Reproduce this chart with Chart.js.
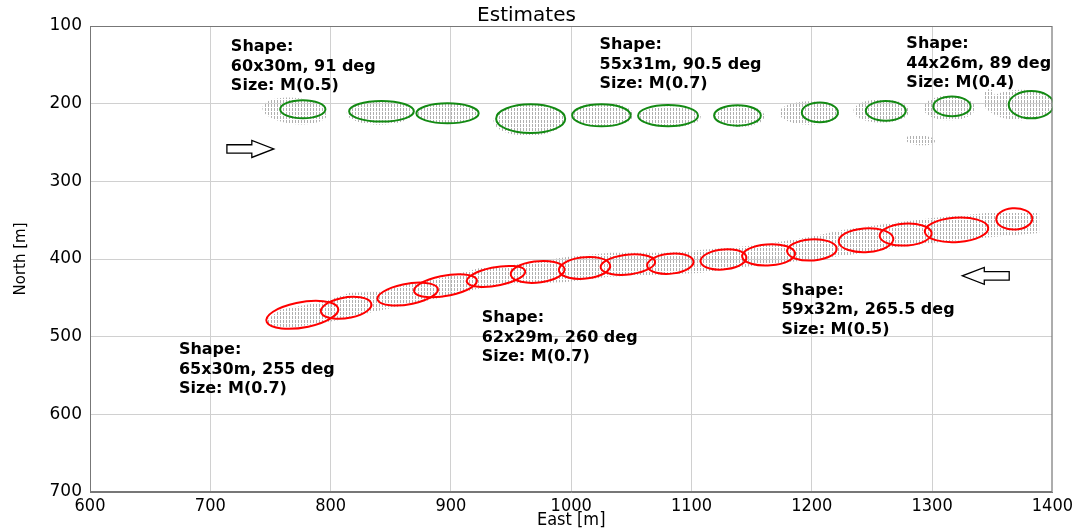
<!DOCTYPE html>
<html>
<head>
<meta charset="utf-8">
<script src="https://cdn.jsdelivr.net/npm/chart.js@4.4.1/dist/chart.umd.min.js"></script>
<style>
  html, body { margin: 0; padding: 0; background: #fff; }
  #wrap { width: 1077px; height: 531px; }
</style>
</head>
<body>
<div id="wrap"><canvas id="grafik" width="1077" height="531"></canvas></div>
<script>
// estimated ellipses, northern track (green): centre, semi axes [m], tilt [deg]
const greenX = [776.9, 842.3, 897.2, 966.3, 1025.1, 1080.5, 1138.2, 1206.7, 1261.5, 1316.5, 1382.4];
const greenY = [207.2, 209.8, 212.4, 219.3, 215.0, 215.4, 215.2, 211.3, 209.2, 203.6, 201.3];
const greenA = [18.8, 26.9, 25.9, 28.7, 24.3, 24.9, 19.4, 15.0, 16.6, 15.5, 18.7];
const greenB = [11.6, 13.3, 12.9, 18.5, 14.2, 13.7, 13.1, 12.7, 12.7, 12.7, 17.6];
const greenAngle = [0, 0, 0, 0, 0, 0, 0, 0, 0, 0, 0];

// estimated ellipses, southern track (red)
const redX = [776.5, 812.9, 864.1, 895.5, 937.5, 972.1, 1011.1, 1047.1, 1082.4, 1126.6, 1164.1, 1200.1, 1245.1, 1278.0, 1320.3, 1368.3];
const redY = [471.9, 462.9, 445.2, 434.4, 422.4, 416.6, 411.5, 407.2, 406.0, 400.5, 394.7, 388.3, 375.8, 368.6, 362.5, 348.4];
const redA = [31.0, 21.7, 26.1, 27.2, 25.3, 22.7, 21.6, 23.0, 19.5, 19.3, 22.1, 20.7, 22.8, 21.7, 26.5, 15.0];
const redB = [16.0, 13.1, 13.0, 12.8, 11.6, 13.6, 13.7, 12.6, 12.8, 12.8, 13.6, 13.6, 15.3, 14.0, 15.6, 13.7];
const redAngle = [18, 18, 18, 18, 18, 12, 12, 12, 12, 12, 7, 7, 7, 7, 7, 7];

// raw detections, northern track: patches
const cloudX = [770.3, 840.9, 897.3, 965.4, 1026.0, 1081.7, 1140.0, 1198.0, 1257.8, 1314.3, 1374.0, 1347.5, 1290.0];
const cloudY = [209.4, 212.0, 212.0, 221.0, 214.5, 217.0, 216.0, 212.0, 209.4, 205.5, 201.7, 195.0, 247.0];
const cloudA = [27.4, 27.5, 26.5, 30.0, 25.7, 26.0, 20.7, 25.0, 23.2, 21.5, 29.0, 5.0, 12.5];
const cloudB = [16.7, 15.0, 13.0, 20.5, 15.5, 13.5, 14.0, 15.0, 15.0, 16.0, 19.5, 14.0, 6.5];
const cloudAngle = [-12, 0, 0, 4, 0, 0, 0, 0, 0, 0, 0, 0, -8];

// raw detections, southern track: outline
const stripEast = [747.0, 757.8, 793.5, 816.0, 840.9, 868.3, 896.5, 923.9, 951.3, 996.2, 1031.9, 1079.2, 1106.6, 1156.5, 1198.0, 1225.4, 1267.0, 1300.2, 1345.0, 1389.0,
                   1389.0, 1350.0, 1300.2, 1267.0, 1231.2, 1198.0, 1156.5, 1106.6, 1065.1, 1031.9, 996.2, 940.5, 918.1, 890.7, 863.3, 835.0, 807.6, 766.1, 747.0];
const stripNorth = [478.4, 465.5, 455.2, 443.6, 442.3, 430.8, 423.0, 411.5, 407.6, 397.3, 392.1, 392.1, 388.3, 381.9, 371.6, 362.5, 353.5, 347.1, 340.7, 340.7,
                    366.4, 371.6, 379.3, 385.7, 394.7, 401.2, 407.6, 417.9, 420.5, 423.0, 429.5, 433.3, 439.8, 450.1, 459.1, 468.1, 478.4, 488.7, 484.8];

// notes
const noteX = [717.1, 1023.6, 1278.6, 673.9, 925.6, 1174.8];
const noteY = [127.0, 124.5, 123.2, 517.0, 475.8, 441.0];
const noteLines = [
  ["Shape:", "60x30m, 91 deg", "Size: M(0.5)"],
  ["Shape:", "55x31m, 90.5 deg", "Size: M(0.7)"],
  ["Shape:", "44x26m, 89 deg", "Size: M(0.4)"],
  ["Shape:", "65x30m, 255 deg", "Size: M(0.7)"],
  ["Shape:", "62x29m, 260 deg", "Size: M(0.7)"],
  ["Shape:", "59x32m, 265.5 deg", "Size: M(0.5)"]
];

// direction arrows (tail -> tip)
const arrowFromX = [713.8, 1364.1];
const arrowToX = [752.8, 1325.1];
const arrowY = [258.3, 421.7];

const xTicks = [600, 700, 800, 900, 1000, 1100, 1200, 1300, 1400];
const yTicks = [100, 200, 300, 400, 500, 600, 700];

let pola = null;
function ambilPola(ctx) {
    if (!pola) {
        let c = document.createElement("canvas");
        c.width = 3; c.height = 4;
        let g = c.getContext("2d");
        g.fillStyle = "#b0b0b0";
        g.fillRect(1, 0, 1, 3);
        pola = ctx.createPattern(c, "repeat");
    }
    return pola;
}

function jalurElips(chart, cx, cy, a, b, sudut) {
    let ctx = chart.ctx;
    let xs = chart.scales.x, ys = chart.scales.y;
    let px = xs.getPixelForValue(cx), py = ys.getPixelForValue(cy);
    let kx = xs.getPixelForValue(cx + 1) - px;
    let ky = ys.getPixelForValue(cy - 1) - py;
    ctx.save();
    ctx.translate(px, py);
    ctx.scale(kx, ky);
    ctx.beginPath();
    ctx.ellipse(0, 0, a, b, sudut * Math.PI / 180, 0, 2 * Math.PI);
    ctx.restore();
}

const gambarLatar = {
    id: "latar",
    beforeDatasetsDraw(chart) {
        let ctx = chart.ctx, area = chart.chartArea;
        let xs = chart.scales.x, ys = chart.scales.y;
        ctx.save();
        ctx.beginPath();
        ctx.rect(area.left, area.top, area.right - area.left, area.bottom - area.top);
        ctx.clip();
        ctx.fillStyle = ambilPola(ctx);
        for (let i = 0; i < cloudX.length; i++) {
            jalurElips(chart, cloudX[i], cloudY[i], cloudA[i], cloudB[i], cloudAngle[i]);
            ctx.fill();
        }
        ctx.beginPath();
        for (let i = 0; i < stripEast.length; i++) {
            let X = xs.getPixelForValue(stripEast[i]), Y = ys.getPixelForValue(stripNorth[i]);
            if (i == 0) ctx.moveTo(X, Y); else ctx.lineTo(X, Y);
        }
        ctx.closePath();
        ctx.fill();
        ctx.restore();
    },
    afterDatasetsDraw(chart) {
        let ctx = chart.ctx, area = chart.chartArea;
        let xs = chart.scales.x, ys = chart.scales.y;
        ctx.save();
        ctx.beginPath();
        ctx.rect(area.left, area.top, area.right - area.left, area.bottom - area.top);
        ctx.clip();
        ctx.lineWidth = 2;
        ctx.strokeStyle = "#138a13";
        for (let i = 0; i < greenX.length; i++) {
            jalurElips(chart, greenX[i], greenY[i], greenA[i], greenB[i], greenAngle[i]);
            ctx.stroke();
        }
        ctx.strokeStyle = "#ff0000";
        for (let i = 0; i < redX.length; i++) {
            jalurElips(chart, redX[i], redY[i], redA[i], redB[i], redAngle[i]);
            ctx.stroke();
        }

        // arrows
        ctx.lineWidth = 1.3;
        ctx.strokeStyle = "#000";
        ctx.fillStyle = "#fff";
        for (let i = 0; i < arrowFromX.length; i++) {
            let x0 = xs.getPixelForValue(arrowFromX[i]);
            let x1 = xs.getPixelForValue(arrowToX[i]);
            let y = ys.getPixelForValue(arrowY[i]);
            let arah = x1 > x0 ? 1 : -1;
            let kepala = 22 * arah;
            ctx.beginPath();
            ctx.moveTo(x0, y - 4.2);
            ctx.lineTo(x1 - kepala, y - 4.2);
            ctx.lineTo(x1 - kepala, y - 8.5);
            ctx.lineTo(x1, y);
            ctx.lineTo(x1 - kepala, y + 8.5);
            ctx.lineTo(x1 - kepala, y + 4.2);
            ctx.lineTo(x0, y + 4.2);
            ctx.closePath();
            ctx.fill();
            ctx.stroke();
        }

        // notes
        ctx.fillStyle = "#000";
        ctx.font = 'bold 16px "DejaVu Sans"';
        ctx.textBaseline = "middle";
        ctx.textAlign = "left";
        for (let i = 0; i < noteX.length; i++) {
            let X = xs.getPixelForValue(noteX[i]), Y = ys.getPixelForValue(noteY[i]);
            noteLines[i].forEach((t, j) => ctx.fillText(t, X, Y + j * 19.5));
        }
        ctx.restore();

        // frame
        ctx.save();
        ctx.strokeStyle = "#777";
        ctx.lineWidth = 1;
        ctx.strokeRect(area.left + 0.5, area.top + 0.5, area.right - area.left - 1, area.bottom - area.top - 1);
        ctx.restore();
    }
};

function buatGrafik() {
    let ctx = document.getElementById("grafik").getContext("2d");
    new Chart(ctx, {
        type: "scatter",
        data: {
            datasets: [{
                label: "north track",
                data: greenX.map((x, i) => ({ x: x, y: greenY[i] })),
                pointRadius: 0
            }, {
                label: "south track",
                data: redX.map((x, i) => ({ x: x, y: redY[i] })),
                pointRadius: 0
            }]
        },
        options: {
            responsive: false,
            animation: false,
            devicePixelRatio: 1,
            layout: { padding: { left: 0, right: 24, top: 0, bottom: 0 } },
            plugins: {
                legend: { display: false },
                tooltip: { enabled: false },
                title: {
                    display: true,
                    text: "Estimates",
                    color: "#000",
                    font: { family: "DejaVu Sans", size: 20, weight: "normal", lineHeight: 1 },
                    padding: { top: 6, bottom: 0 }
                }
            },
            scales: {
                x: {
                    type: "linear",
                    min: 600,
                    max: 1400,
                    afterBuildTicks: (s) => { s.ticks = xTicks.map(v => ({ value: v })); },
                    afterFit: (s) => { s.height = 39; },
                    grid: { color: "#d0d0d0", drawTicks: false },
                    border: { color: "#777" },
                    ticks: {
                        color: "#000",
                        padding: 4,
                        font: { family: "DejaVu Sans Condensed, DejaVu Sans", size: 18 },
                        callback: (v) => String(v)
                    },
                    title: {
                        display: true,
                        text: "East [m]",
                        color: "#000",
                        font: { family: "DejaVu Sans Condensed, DejaVu Sans", size: 18, lineHeight: 1.1 },
                        padding: { top: 0, bottom: 1 }
                    }
                },
                y: {
                    type: "linear",
                    reverse: true,
                    min: 100,
                    max: 700,
                    afterBuildTicks: (s) => { s.ticks = yTicks.map(v => ({ value: v })); },
                    afterFit: (s) => { s.width = 90; },
                    grid: { color: "#d0d0d0", drawTicks: false },
                    border: { color: "#777" },
                    ticks: {
                        color: "#000",
                        padding: 8,
                        font: { family: "DejaVu Sans", size: 17 },
                        callback: (v) => String(v)
                    },
                    title: {
                        display: true,
                        text: "North [m]",
                        color: "#000",
                        font: { family: "DejaVu Sans", size: 15 },
                        padding: { top: 12, bottom: 0 }
                    }
                }
            }
        },
        plugins: [gambarLatar]
    });
}

buatGrafik();
</script>
</body>
</html>
